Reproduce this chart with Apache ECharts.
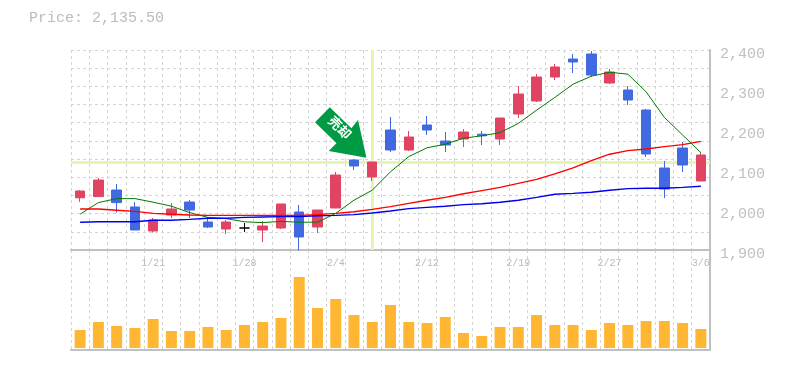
<!DOCTYPE html>
<html><head><meta charset="utf-8">
<style>html,body{margin:0;padding:0;background:#fff}#c{width:785px;height:370px}</style>
<script src="https://cdn.jsdelivr.net/npm/echarts@6/dist/echarts.min.js"></script>
</head><body><div id="c"></div>
<script>
const categories=['1/15','1/16','1/17','1/18','1/21','1/22','1/23','1/24','1/25','1/28','1/29','1/30','1/31','2/1','2/4','2/5','2/6','2/7','2/8','2/12','2/13','2/14','2/15','2/18','2/19','2/20','2/21','2/22','2/26','2/27','2/28','3/1','3/4','3/5','3/6'];
const opens=[2046,2049,2065.5,2023,1963,2003,2035.5,1985.5,1968,1970.5,1965.5,1970.5,2010.5,1973,2020.5,2140.5,2098,2215.5,2165.5,2228,2188,2193,2205,2193,2255.5,2288,2348,2393,2405.5,2333,2315.5,2265.5,2120.5,2170.5,2088];
const closes=[2063,2090.5,2034,1965.5,1990.5,2018,2015.5,1973,1985.5,1970.5,1975.5,2030.5,1948,2015.5,2103,2125.5,2135.5,2165.5,2198,2215.5,2178,2210.5,2201,2245.5,2305.5,2348,2373,2385.5,2353,2360.5,2290.5,2155.5,2068,2128,2153];
const lows=[2036,2049,2009,1965.5,1959,1995.5,1995.5,1970.5,1955.5,1960.5,1935.5,1968,1914,1958,2020.5,2115.5,2088,2160.5,2163,2203,2160.5,2173,2178,2178,2245.5,2285.5,2340.5,2358,2348,2330.5,2278,2148,2045.5,2110.5,2088];
const highs=[2065.5,2095.5,2080.5,2035.5,1995.5,2033,2040.5,1998,1990.5,1983,1988,2030.5,2028,2015.5,2110.5,2143,2135.5,2248,2213,2250.5,2210.5,2218,2213,2245.5,2325.5,2355.5,2380.5,2405.5,2413,2368,2325.5,2268,2138,2185.5,2160.5];
const ma5=[2005,2034,2044,2044,2035,2025,2009,1997,1994,1986,1984,1987,1985,1985,2007,2040,2065,2111,2149,2171,2180,2195,2201,2209,2232,2265,2297,2330,2350,2360,2355,2311,2247,2203,2159];
const ma20=[2018,2018,2015,2012,2007,2005,2003,2002,2002,2002,2002,2002,2002,2004,2007,2011,2017,2024,2032,2040,2047,2056,2064,2072,2082,2092,2106,2121,2139,2155,2164,2168,2174,2179,2187];
const ma60=[1985,1986,1986,1986,1990,1990,1992,1995,1995,1997,1998,1999,1999,2001,2002,2004,2008,2013,2019,2022,2025,2029,2031,2035,2040,2047,2055,2057,2060,2065,2069,2070,2070,2072,2075];
const volumes=[54,78,66,60,87,51,51,63,54,69,78,90,213,120,147,99,78,129,78,75,93,45,36,63,63,99,69,69,54,75,69,81,81,75,57];
const priceTicks=[1900,2000,2100,2200,2300,2400];
const currentPrice=2135.5;
const crossIndex=16;
const labelIdx=[4,9,14,19,24,29,34];
const signalText='売却';
const candles=categories.map((_,i)=>[opens[i],closes[i],lows[i],highs[i]]);
const arrow='path://M14.7 0 L36.4 21 L43 12.7 L51.4 50.4 L13.7 43.7 L21.4 36 L0 15 Z';
const chart=echarts.init(document.getElementById('c'),null,{renderer:'canvas'});
const dash={color:'#d4d4d4',type:[3,3],width:1};
const mono='"Liberation Mono",monospace';
chart.setOption({
animation:false,backgroundColor:'#fff',
title:{text:'Price: 2,135.50',left:24,top:6,textStyle:{fontFamily:mono,fontSize:15,fontWeight:'normal',color:'#bbbbbb'}},
grid:[{left:71,right:75,top:50,height:200},{left:71,right:75,top:250,height:100},{left:71,right:75,top:40,height:220}],
xAxis:[
{type:'category',gridIndex:0,data:categories,boundaryGap:true,axisLine:{show:true,onZero:false,lineStyle:{color:'#c0c0c0',width:2}},axisTick:{show:false},axisLabel:{show:false},splitLine:{show:true,interval:0,lineStyle:dash}},
{type:'category',gridIndex:1,position:'top',data:categories,boundaryGap:true,axisLine:{show:false},axisTick:{show:false},splitLine:{show:true,interval:0,lineStyle:dash},
 axisLabel:{show:true,inside:true,margin:8,interval:(i)=>labelIdx.includes(i),fontFamily:mono,fontSize:10,color:'#bbbbbb',hideOverlap:false}},
{type:'category',gridIndex:1,position:'bottom',data:categories,axisLine:{show:true,onZero:false,lineStyle:{color:'#c0c0c0',width:2}},axisTick:{show:false},axisLabel:{show:false},splitLine:{show:false}},
{type:'category',gridIndex:2,data:categories,show:false}
],
yAxis:[
{type:'value',gridIndex:0,position:'right',min:1915.5,max:2415.5,interval:100,
 axisLine:{show:true,lineStyle:{color:'#c0c0c0',width:2}},axisTick:{show:false},splitLine:{show:false},axisLabel:{show:false}},
{type:'value',gridIndex:0,position:'left',min:0,max:11,interval:1,axisLine:{show:false},axisTick:{show:false},axisLabel:{show:false},splitLine:{show:true,lineStyle:dash}},
{type:'value',gridIndex:1,position:'right',min:-6,max:294,axisLine:{show:true,lineStyle:{color:'#c0c0c0',width:2}},axisTick:{show:false},axisLabel:{show:false},splitLine:{show:false}},
{type:'value',gridIndex:2,position:'right',min:1884.5,max:2434.5,axisLine:{show:false},axisTick:{show:false},splitLine:{show:false},
 axisLabel:{show:true,margin:10,fontFamily:mono,fontSize:15,color:'#c0c0c0',customValues:priceTicks,formatter:v=>Math.round(v).toLocaleString('en-US')}}
],
series:[
{type:'line',name:'cross',xAxisIndex:0,yAxisIndex:0,data:[],z:1,silent:true,
 markLine:{silent:true,z:1,symbol:'none',animation:false,label:{show:false},lineStyle:{color:'#e4f5ae',width:3,type:'solid'},
  data:[{xAxis:crossIndex},{yAxis:currentPrice}]}},
{type:'candlestick',xAxisIndex:0,yAxisIndex:0,data:candles,barWidth:10,z:3,clip:true,
 itemStyle:{color:'#e04462',color0:'#4169e1',borderColor:'#e04462',borderColor0:'#4169e1',borderColorDoji:'#000',borderWidth:1},
 markPoint:{silent:true,z:6,animation:false,symbol:arrow,symbolSize:[51.4,50.4],symbolKeepAspect:false,symbolOffset:[-31.5,-29.5],
  itemStyle:{color:'#009944'},
  label:{show:true,position:'inside',formatter:signalText,rotate:-45,offset:[-4,-3],color:'#fff',fontSize:13,fontWeight:'bold',fontFamily:'"Noto Sans CJK JP",sans-serif'},
  data:[{coord:[crossIndex,currentPrice]}]}},
{type:'line',name:'MA5',xAxisIndex:0,yAxisIndex:0,data:ma5,symbol:'none',z:4,silent:true,lineStyle:{color:'#007a00',width:1}},
{type:'line',name:'MA20',xAxisIndex:0,yAxisIndex:0,data:ma20,symbol:'none',z:4,silent:true,lineStyle:{color:'#ff0000',width:1.4}},
{type:'line',name:'MA60',xAxisIndex:0,yAxisIndex:0,data:ma60,symbol:'none',z:4,silent:true,lineStyle:{color:'#0000ee',width:1.4}},
{type:'bar',xAxisIndex:1,yAxisIndex:2,data:volumes,barWidth:11,z:3,silent:true,itemStyle:{color:'#ffb733'}}
]});
</script></body></html>
